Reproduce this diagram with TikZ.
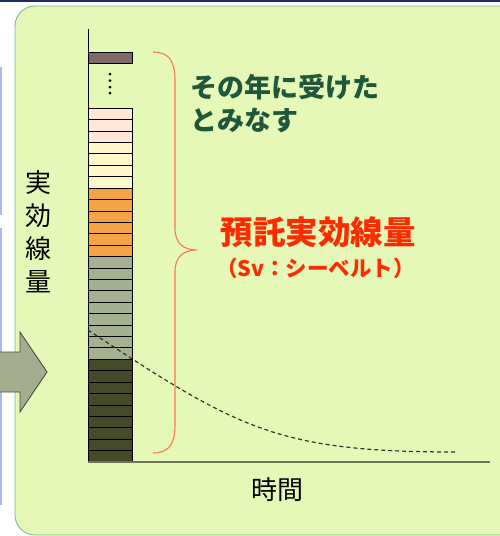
\documentclass[tikz,border=0pt]{standalone}
\usepackage{fontspec}
\newfontfamily\jp{Noto Sans CJK JP}
\definecolor{panelfill}{HTML}{E6F8B8}
\definecolor{panelline}{HTML}{78BC92}
\definecolor{navy}{HTML}{1F2B5E}
\definecolor{sideblue}{HTML}{A8B8F0}
\definecolor{cpink}{HTML}{FFE8D8}
\definecolor{cyellow}{HTML}{FFF8CA}
\definecolor{corange}{HTML}{F4A447}
\definecolor{cgray}{HTML}{A4B090}
\definecolor{cdark}{HTML}{454B28}
\definecolor{cbrown}{HTML}{7E6A6A}
\definecolor{bracecol}{HTML}{F47A50}
\definecolor{greentext}{HTML}{1F573A}
\definecolor{redtext}{HTML}{FF2A00}
\definecolor{axiscol}{HTML}{6E7458}
\definecolor{arrowfill}{HTML}{A4AE8E}
\tikzset{
  stripe/.style={draw=black, line width=0.9pt},
  jpreg/.style={font=\jp\fontsize{26}{33}\selectfont, inner sep=0pt},
}
\begin{document}
\begin{tikzpicture}[x=1pt,y=-1pt]
\useasboundingbox (0,0) rectangle (500,536);
\fill[white] (0,0) rectangle (500,536);
% top navy line and side fragment
\fill[navy] (0,0) rectangle (500,1.6);
\draw[sideblue, line width=1.5pt] (1,67) -- (1,215);
\draw[sideblue, line width=1.5pt] (1,228) -- (1,505);
% panel
\draw[panelline, fill=panelfill, line width=0.9pt, rounded corners=20pt] (15,6) rectangle (520,535);
% stripes
\foreach \i in {0,...,30}{
  \pgfmathsetmacro{\ya}{108.3+\i*11.41}
  \pgfmathsetmacro{\yb}{108.3+(\i+1)*11.41}
  \ifnum\i<3 \def\cc{cpink}\else
  \ifnum\i<7 \def\cc{cyellow}\else
  \ifnum\i<13 \def\cc{corange}\else
  \ifnum\i<22 \def\cc{cgray}\else
  \def\cc{cdark}\fi\fi\fi\fi
  \draw[stripe, fill=\cc] (88,\ya) rectangle (132,\yb);
}
\draw[stripe, fill=cbrown] (88,52) rectangle (132,63);
\foreach \yy in {74,80.5,87,93}{
  \fill[black] (110,\yy) circle (1.5);
}
% axes
\coordinate (origin) at (88,462);
\coordinate (ytop) at (88,29);
\coordinate (xend) at (490,462);
\draw[black, line width=1pt] (ytop) -- (origin);
\draw[axiscol, line width=1.6pt] (origin) -- (xend);
% dashed curve
\coordinate (c0) at (88,330);
\coordinate (c1) at (457,452);
\draw[black!80, dashed, dash pattern=on 4pt off 3pt, line width=1.2pt] (c0) .. controls (238,429) and (277,452) .. (c1);
% brace
\draw[bracecol, line width=1.1pt] (153,52) .. controls (168,52) and (175,60) .. (175,80) -- (175,228)
  .. controls (175,243) and (183,250) .. (197,250)
  .. controls (183,250) and (175,257) .. (175,272) -- (175,425)
  .. controls (175,445) and (168,453) .. (153,453);
% arrow
\draw[black!70, fill=arrowfill, line width=0.9pt] (-5,352) -- (20,352) -- (20,332) -- (47,372) -- (20,412) -- (20,392) -- (-5,392) -- cycle;
% texts
\node[jpreg, anchor=center, align=center] (ylabel) at (38,232) {実\\効\\線\\量};
\node[jpreg, anchor=center] (xlabel) at (277,490) {時間};
\node[font=\jp\bfseries\fontsize{27}{33}\selectfont, text=greentext, anchor=west, align=left, inner sep=0pt] (note) at (190,104) {その年に受けた\\とみなす};
\node[font=\jp\bfseries\fontsize{32.5}{36}\selectfont, text=redtext, inner sep=0pt] (title) at (318,232) {預託実効線量};
\node[font=\jp\bfseries\fontsize{21.5}{24}\selectfont, text=redtext, inner sep=0pt] (unit) at (315.5,268) {（Sv：シーベルト）};
\end{tikzpicture}
\end{document}
